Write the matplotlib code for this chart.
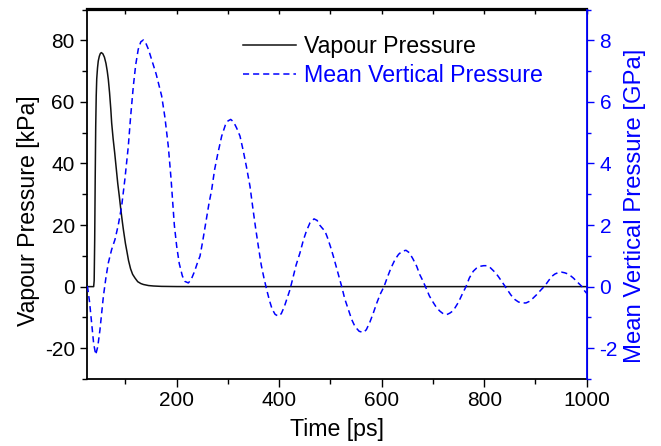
import matplotlib
matplotlib.use("Agg")
import matplotlib.pyplot as plt
from matplotlib.ticker import MultipleLocator

plt.rcParams['font.family'] = ['Liberation Sans', 'DejaVu Sans']
plt.rcParams['axes.unicode_minus'] = False

# Vapour pressure [kPa] vs time [ps]
vap_t = [25, 38, 39, 40, 41, 42, 43, 44, 45.5, 47, 49, 51, 53, 56, 59, 62, 64.5, 66.6,
         69, 71.5, 73.1, 76, 79, 82, 85, 88, 91, 94, 96, 100, 103, 106, 110, 114, 118.6,
         124, 130, 135, 145, 155, 170, 200, 260, 1000]
vap_v = [0, 0, 2, 15, 35, 52, 62, 67.5, 71, 73.3, 74.8, 75.7, 76, 75.6, 74.5, 72.5, 70, 67.3,
         63, 57.5, 53.2, 48, 43.5, 38.5, 33.5, 29.4, 25, 21, 18.5, 14, 11.3, 8.5, 5.8, 4.0,
         2.8, 1.6, 1.0, 0.7, 0.35, 0.2, 0.08, 0.02, 0, 0]

# Mean vertical pressure [GPa] vs time [ps]
mvp_t = [25, 26, 30, 34, 38, 42, 46, 50.3, 54, 57, 62, 66.6, 73, 79.6, 86, 92.6, 99, 105.6,
         110, 115.4, 120, 125, 130, 134.9, 140, 145, 151, 160, 170.7, 177, 183.6, 189,
         195.4, 200, 205, 211, 216, 222.7, 228, 235, 240, 245.5, 251, 257, 263, 268.3,
         274, 280, 287.8, 295, 300, 305.4, 311, 317, 323.5, 330, 336, 343, 349, 354,
         359.3, 365, 370, 375.6, 381, 386, 392, 398.3, 404, 410, 416, 421, 427, 433,
         440.6, 447, 453, 460, 468, 474, 479, 484, 489.4, 494, 500, 505.6, 512, 517,
         522, 528, 534, 541.5, 548, 556, 564.2, 570, 577, 583.6, 590, 597, 604.5, 611,
         618, 626, 633, 640, 647.4, 654, 661, 668.3, 674, 680, 686.4, 693, 700, 707.3,
         713.8, 720, 726.8, 733, 738, 743, 750, 757, 764.5, 771, 778.7, 785, 792, 799,
         805, 811, 817, 822, 827.5, 835, 843.9, 852, 860, 867, 874, 881.6, 888, 895,
         902.4, 910, 918.6, 925, 931.7, 938, 945, 951.2, 957, 962, 968, 973.9, 980,
         985, 990.2, 995, 1000]
mvp_v = [0, 0, -0.5, -1.18, -1.85, -2.21, -1.95, -1.4, -0.8, -0.31, 0.3, 0.77, 1.2, 1.53,
         2.0, 2.61, 3.5, 4.56, 5.5, 6.51, 7.2, 7.71, 7.95, 8.01, 7.9, 7.7, 7.38, 6.9, 6.19,
         5.5, 4.56, 3.5, 2.0, 1.31, 0.75, 0.35, 0.17, 0.12, 0.22, 0.5, 0.75, 0.99, 1.5,
         2.1, 2.7, 3.15, 3.8, 4.3, 4.89, 5.25, 5.38, 5.43, 5.35, 5.15, 4.89, 4.4, 3.9,
         3.26, 2.5, 1.9, 1.31, 0.7, 0.3, -0.1, -0.45, -0.72, -0.9, -0.96, -0.88, -0.65,
         -0.35, -0.1, 0.3, 0.7, 1.1, 1.5, 1.8, 2.07, 2.2, 2.15, 2.0, 1.9, 1.8, 1.6, 1.3,
         0.99, 0.6, 0.3, 0.0, -0.4, -0.7, -1.07, -1.3, -1.45, -1.49, -1.4, -1.15, -0.86,
         -0.55, -0.25, 0.0, 0.3, 0.6, 0.88, 1.05, 1.15, 1.18, 1.1, 0.9, 0.66, 0.4, 0.2,
         -0.04, -0.3, -0.5, -0.69, -0.8, -0.88, -0.91, -0.86, -0.8, -0.69, -0.5, -0.25,
         0.0, 0.28, 0.5, 0.6, 0.66, 0.68, 0.68, 0.63, 0.53, 0.45, 0.33, 0.15, -0.07,
         -0.27, -0.42, -0.5, -0.53, -0.53, -0.48, -0.38, -0.26, -0.12, 0.03, 0.18, 0.33,
         0.41, 0.46, 0.47, 0.45, 0.42, 0.36, 0.28, 0.18, 0.1, 0.01, -0.12, -0.22]

BLUE = '#0000ff'
TFS = 15      # tick labels
LFS = 16.7    # axis labels and legend

fig = plt.figure(figsize=(6.61, 4.46), dpi=100)
ax = fig.add_axes([87/661, 1 - 379/446, (586.7 - 87)/661, (379 - 9.5)/446])
ax2 = ax.twinx()

l1, = ax.plot(vap_t, vap_v, color='#111111', lw=1.1, label='Vapour Pressure')
l2, = ax2.plot(mvp_t, mvp_v, color=BLUE, lw=1.1, linestyle=(0, (4, 2.6)),
               label='Mean Vertical Pressure')

ax.set_xlim(25, 1000)
ax.set_ylim(-30, 90)
ax2.set_ylim(-3, 9)

ax.xaxis.set_major_locator(MultipleLocator(200))
ax.xaxis.set_minor_locator(MultipleLocator(100))
ax.yaxis.set_major_locator(MultipleLocator(20))
ax.yaxis.set_minor_locator(MultipleLocator(10))
ax2.yaxis.set_major_locator(MultipleLocator(2))
ax2.yaxis.set_minor_locator(MultipleLocator(1))

ax.tick_params(axis='x', which='major', direction='out', length=5.5, width=1.0,
               labelsize=TFS, pad=3.5, top=False)
ax.tick_params(axis='x', which='minor', direction='out', length=3.4, width=1.0, top=False)
ax.tick_params(axis='y', which='major', direction='out', length=5, width=1.0,
               labelsize=TFS, pad=3.8)
ax.tick_params(axis='y', which='minor', direction='out', length=3.4, width=1.0)
ax2.tick_params(axis='y', which='major', direction='out', length=4.8, width=1.0,
                labelsize=TFS, colors=BLUE, pad=4.5)
ax2.tick_params(axis='y', which='minor', direction='out', length=2.9, width=1.0,
                colors=BLUE)

# top ticks pointing inward
sec = ax.secondary_xaxis('top')
sec.xaxis.set_major_locator(MultipleLocator(200))
sec.xaxis.set_minor_locator(MultipleLocator(100))
sec.tick_params(which='both', direction='in', length=3.4, width=1.0, labeltop=False)
sec.spines['top'].set_linewidth(1.6)

for s in ['left', 'bottom']:
    ax.spines[s].set_linewidth(1.3)
ax.spines['top'].set_linewidth(1.6)
ax2.spines['right'].set_color(BLUE)
ax2.spines['right'].set_linewidth(1.3)
ax2.spines['left'].set_visible(False)
ax2.spines['top'].set_visible(False)
ax2.spines['bottom'].set_visible(False)

ax.set_xlabel('Time [ps]', fontsize=LFS)
ax.xaxis.set_label_coords(0.5, -0.1066)
ax.set_ylabel('Vapour Pressure [kPa]', fontsize=LFS)
ax.yaxis.set_label_coords(-0.094, 0.455)
ax2.set_ylabel('Mean Vertical Pressure [GPa]', fontsize=17.2, color=BLUE)
ax2.yaxis.set_label_coords(1.0746, 0.468)

leg = ax.legend(handles=[l1, l2], loc='upper left', bbox_to_anchor=(0.312, 0.931),
                frameon=False, fontsize=LFS, handlelength=2.27, handletextpad=0.35,
                labelspacing=0.28, borderaxespad=0, borderpad=0)
leg.get_texts()[1].set_color(BLUE)

fig.savefig('out.png', dpi=100, facecolor='white')
